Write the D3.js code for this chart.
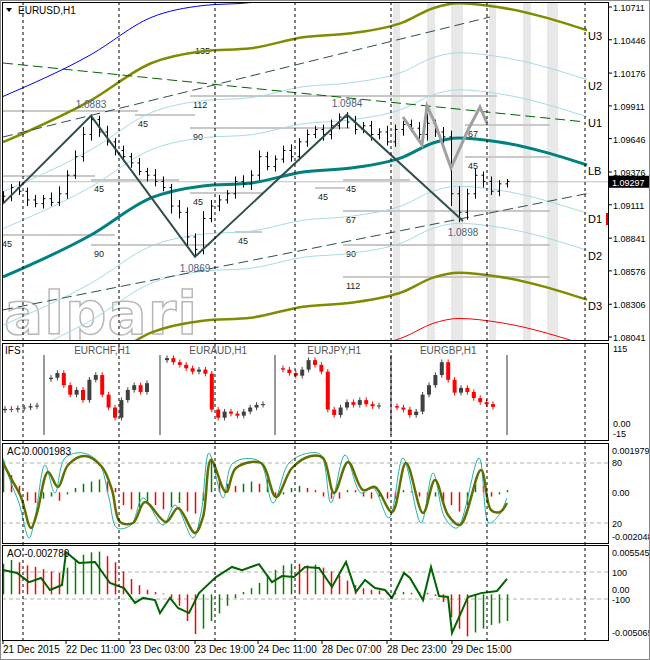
<!DOCTYPE html>
<html><head><meta charset="utf-8">
<script src="https://cdn.jsdelivr.net/npm/d3@7"></script>
<style>body{margin:0;background:#fff}svg{display:block;font-family:"Liberation Sans",Arial,sans-serif}</style>
</head><body><svg id="c" width="650" height="660"></svg>
<script>
// ---------- DATA ----------
const closes=[1.0918,1.0925,1.0922,1.0915,1.0912,1.0916,1.0913,1.0920,1.0935,1.0950,1.0968,1.0980,1.0970,1.0962,1.0955,1.0950,1.0945,1.0938,1.0935,1.0930,1.0925,1.0910,1.0905,1.0885,1.0875,1.0900,1.0910,1.0915,1.0920,1.0930,1.0928,1.0935,1.0950,1.0942,1.0948,1.0955,1.0950,1.0962,1.0968,1.0972,1.0968,1.0975,1.0982,1.0978,1.0972,1.0975,1.0968,1.0970,1.0962,1.0972,1.0976,1.0973,1.0968,1.0977,1.0970,1.0966,1.0920,1.0905,1.0920,1.0935,1.0930,1.0922,1.0928,1.0930];
const firstOpen=1.0915;
const wickUpPips=[4,3,5,3,4,3,5,6,4,5,6,4,3,5,3,4,3,4,3,5,4,3,5,4,3,6,5,4,3,4,5,4,5,4,3,4,5,3,4,3,4,5,3,4,5,3,4,3,5,4,3,4,5,8,3,4,5,6,4,5,3,4,3,2];
const wickDnPips=[3,4,3,5,3,4,3,3,4,3,4,5,4,3,4,3,4,3,5,4,3,6,5,7,5,4,3,4,3,4,3,5,4,3,4,3,4,3,4,3,5,4,3,5,4,3,5,4,3,4,5,3,4,5,4,5,10,8,6,4,5,3,4,3];
const barHourStep=2;
const priceTicks=[1.10711,1.10446,1.10176,1.09911,1.09646,1.09376,1.09111,1.08841,1.08576,1.08306,1.08041];
const lastPrice=1.09297;
const midHours=[0,22,37,50,62,75,87,100,107.5,114,124,146];
const midPrices=[1.08527,1.08866,1.09166,1.09263,1.09287,1.09376,1.09408,1.09497,1.09611,1.09651,1.09619,1.09433];
const bandNames=["U1","U2","U3","D1","D2","D3"];
const bandOffsets=[0.0039,0.0069,0.0109,-0.0039,-0.0069,-0.0109];
const outerOffsets=[0.0146,-0.0146];
const zigHours=[0,22,48,86,115];
const zigPrices=[1.0912,1.0983,1.0869,1.0984,1.0898];
const zigLabels=["","1.0883","1.0869","1.0984","1.0898"];
const projHours=[100,104.75,106,108,112,116.25,119.25,121];
const projPrices=[1.09821,1.09595,1.09910,1.09772,1.09408,1.09716,1.09902,1.09772];
const trendLines=[{h:[0,146.75],p:[1.08260,1.09206],c:"#2f4f4f"},{h:[0,121.75],p:[1.09659,1.10630],c:"#2f4f4f"},{h:[0,145.5],p:[1.10258,1.09781],c:"#006400"}];
const levels=[[-1,33.75,1.09870,""],[33,48,1.09837,"45"],[46.75,123.5,1.09991,"112"],[46.75,86.75,1.09732,"90"],[-1,23,1.09344,""],[22,44,1.09311,"45"],[46.75,64.75,1.09206,"45"],[78,85.5,1.09247,"45"],[85,101.75,1.09311,"45"],[-1,28,1.08866,"45"],[22,51.75,1.08786,"90"],[58,64.75,1.08891,"45"],[85,136.75,1.08786,"90"],[85,136.75,1.09061,"67"],[85,136.75,1.08527,"112"],[115.5,136.75,1.09756,"67"],[115.5,136.75,1.09498,"45"]];
const extraLabel={h:48,p:1.1033,t:"135"};
const stripes=[[97.5,99.25],[106,108],[112,115],[121.5,123.25],[130,132],[136,138.75]];
const sessionHours=[5,29,53,73,97,121,145.5];
const timeLabels=["21 Dec 2015","22 Dec 11:00","23 Dec 03:00","23 Dec 19:00","24 Dec 11:00","28 Dec 07:00","28 Dec 23:00","29 Dec 15:00"];
const timeLabelHours=[0,15.75,31.75,48,63.75,79.75,96,112.25];
// IFS panel
const ifsSeries=[
 {name:"",start:0.5,step:1.6,open:26,closes:[28,27,29,30,32,33]},
 {name:"EURCHF,H1",start:12,step:1.6,open:72,closes:[74,81,63,49,56,41,71,78,49,30,15,41,56,63,53,66]},
 {name:"EURAUD,H1",start:41,step:1.6,open:100,closes:[103,97,93,88,83,86,80,27,15,24,21,18,24,30,34,35]},
 {name:"EURJPY,H1",start:70,step:1.6,open:88,closes:[86,81,77,86,100,93,83,27,19,30,38,34,41,35,32,33]},
 {name:"EURGBP,H1",start:98.5,step:1.6,open:32,closes:[30,27,19,24,49,63,78,97,71,52,59,53,44,38,35,31]}];
const ifsSeparators=[10.25,39.25,68,97,126];
// AC panel
const acHist=[15,8,3,-4,-5,-3,-2,-4,-1,2,4,5,6,5,2,-6,-8,-7,-5,-6,-8,-7,-5,-9,-10,-4,16,6,4,3,4,5,4,6,-2,-1,2,3,2,1,-2,-3,-3,1,1,-2,-3,-2,-3,-3,1,0.5,-2,-4,-2,-4,-6,-9,-6,4,3,-2,-1,1];
const acSlowH=[0,2.25,4.5,7,8.5,11.25,13.75,16.25,20.5,24.75,27.25,29.25,32.5,35.5,40.75,43.75,48,50,52,55.75,58.25,64.5,68.25,72.25,77,80,82.75,86.25,90,93,97.25,100.75,105,108,111.25,114.25,119.5,122,124.25,126];
const acSlowV=[80,63,46,15,30,71,56,78,87,76,53,21,20,41,21,35,10,26,83,51,75,80,46,75,87,85,50,81,53,56,31,80,30,63,28,18,73,33,31,40];
const acFastH=[0,2,4,6.5,8,10.5,13,15.5,20,24,26.5,28.5,32,35,40,43,47.5,49.5,51.5,55,57.5,64,67.5,71.5,76.5,79.5,82,85.5,89.5,92.5,96.5,100,104.5,107.5,110.5,113.5,119,121.5,124,126];
const acFastV=[85,60,40,5,25,78,50,85,90,80,45,15,18,45,18,38,5,30,90,45,80,82,40,80,90,88,40,88,50,55,25,85,20,70,25,15,85,20,28,45];
// AO panel
const aoHist=[40,45,42,38,36,33,30,28,35,45,52,55,56,50,42,30,20,12,6,3,1,-5,-15,-35,-52,-45,-35,-25,-15,-5,3,8,15,25,32,38,40,40,38,39,35,30,25,18,12,8,6,5,3,2,3,2,3,2,-2,-10,-30,-45,-55,-50,-45,-40,-38,-35];
const aoLineH=[0,3.5,6.5,9.5,11.75,14.75,15.75,19,23,26.75,30.25,33,35,38,39.25,41.75,43.75,46.5,49,53.25,57.25,59.75,64,67.25,69.75,72.75,75.5,79,82.25,85.75,88.25,90.5,93,95.5,97.25,100.25,101.75,105,107,109,111.25,112.25,116.25,119.5,123.5,126];
const aoLineV=[108,96,58,75,25,46,183,138,142,54,33,-29,-8,-17,-71,-8,-50,-71,12,79,121,108,133,58,83,79,121,117,38,142,17,67,33,25,-8,96,75,-17,121,0,-4,-154,-4,12,21,71];

// ---------- DRAW ----------
const svg=d3.select("#c");
const x=d3.scaleLinear().domain([0,1]).range([3,7]);
const P={main:[2,340],ifs:[343,440],ac:[443,543],ao:[545,640]};
const L=2,R=608,AF=9;
const defs=svg.append("defs");
Object.entries(P).forEach(([k,[t,b]])=>defs.append("clipPath").attr("id","cl-"+k).append("rect").attr("x",L).attr("y",t).attr("width",R-L).attr("height",b-t));
const g={};Object.keys(P).forEach(k=>g[k]=svg.append("g").attr("clip-path",`url(#cl-${k})`));
const y=d3.scaleLinear().domain([1.08041,1.10711]).range([337,7]);
const line=(xs,ys,fx,fy,curve)=>d3.line().x((d,i)=>fx(xs[i])).y(d=>fy(d)).curve(curve||d3.curveLinear)(ys);

g.main.selectAll(".st").data(stripes).join("rect").attr("x",d=>x(d[0])).attr("width",d=>x(d[1])-x(d[0])).attr("y",P.main[0]).attr("height",P.main[1]-P.main[0]).attr("fill","#e8e8e8");
sessionHours.forEach(h=>svg.append("line").attr("x1",x(h)).attr("x2",x(h)).attr("y1",2).attr("y2",640).attr("stroke","#000").attr("stroke-dasharray","3,3").attr("stroke-width",1));
g.main.append("text").attr("x",4).attr("y",334).text("alpari").attr("font-size",58).attr("font-family","DejaVu Sans").attr("font-weight","bold").attr("fill","#fff").attr("stroke","#b8b8b8").attr("stroke-width",1.5).attr("letter-spacing",1);
levels.forEach(([h1,h2,p,t])=>{
  g.main.append("line").attr("x1",x(h1)).attr("x2",x(h2)).attr("y1",y(p)).attr("y2",y(p)).attr("stroke","#c8c8c8").attr("stroke-width",2);
  if(t) g.main.append("text").attr("x",x(h1)+3).attr("y",y(p)+12).text(t).attr("font-size",9).attr("fill","#222");
});
g.main.append("text").attr("x",x(extraLabel.h)).attr("y",y(extraLabel.p)).text(extraLabel.t).attr("font-size",9).attr("fill","#222");
g.main.append("line").attr("x1",L).attr("x2",R).attr("y1",y(lastPrice)).attr("y2",y(lastPrice)).attr("stroke","#c0c0c0");
const curve=d3.curveMonotoneX;
bandOffsets.forEach((o,i)=>{
  const olive=Math.abs(o)>0.01;
  g.main.append("path").attr("d",line(midHours,midPrices.map(m=>m+o),x,y,curve)).attr("fill","none").attr("stroke",olive?"#7f8c00":"#a6dbe6").attr("stroke-width",olive?2.5:1);
});
outerOffsets.forEach((o,i)=>g.main.append("path").attr("d",line(midHours,midPrices.map(m=>m+o),x,y,curve)).attr("fill","none").attr("stroke",i?"#ff0000":"#0000ff").attr("stroke-width",1));
g.main.append("path").attr("d",line(midHours,midPrices,x,y,curve)).attr("fill","none").attr("stroke","#008080").attr("stroke-width",3);
trendLines.forEach(t=>g.main.append("line").attr("x1",x(t.h[0])).attr("x2",x(t.h[1])).attr("y1",y(t.p[0])).attr("y2",y(t.p[1])).attr("stroke",t.c).attr("stroke-dasharray","10,5").attr("stroke-width",1));
let prev=firstOpen;
const bars=closes.map((c,i)=>{const o=prev;prev=c;return {h:i*barHourStep,o,c,hi:Math.max(o,c)+wickUpPips[i]*1e-4,lo:Math.min(o,c)-wickDnPips[i]*1e-4};});
const bg=g.main.append("g").attr("stroke","#000").attr("stroke-width",1);
bars.forEach(b=>{const cx=Math.round(x(b.h))+0.5;
  bg.append("line").attr("x1",cx).attr("x2",cx).attr("y1",y(b.hi)).attr("y2",y(b.lo));
  bg.append("line").attr("x1",cx-2).attr("x2",cx).attr("y1",y(b.o)).attr("y2",y(b.o));
  bg.append("line").attr("x1",cx).attr("x2",cx+2).attr("y1",y(b.c)).attr("y2",y(b.c));});
g.main.append("path").attr("d",line(projHours,projPrices,x,y)).attr("fill","none").attr("stroke","#a0a0a0").attr("stroke-width",3);
g.main.append("path").attr("d",line(zigHours,zigPrices,x,y)).attr("fill","none").attr("stroke","#2f4f4f").attr("stroke-width",2);
zigLabels.forEach((t,i)=>{if(!t)return;const up=zigPrices[i]>zigPrices[i-1];
  g.main.append("text").attr("x",x(zigHours[i])).attr("y",y(zigPrices[i])+(up?-8:15)).attr("text-anchor","middle").text(t).attr("font-size",10).attr("fill","#4a5f7a");});
bandNames.concat(["LB"]).forEach((n,i)=>{const p=i<6?midPrices[midPrices.length-1]+bandOffsets[i]:midPrices[midPrices.length-1];
  svg.append("text").attr("x",588).attr("y",y(p)+10).text(n).attr("font-size",11).attr("fill","#000");});
svg.append("path").attr("d","M6,8 L12,8 L9,12 Z").attr("fill","#000");
svg.append("text").attr("x",18).attr("y",14).text("EURUSD,H1").attr("font-size",10);
priceTicks.forEach(p=>{svg.append("line").attr("x1",R).attr("x2",R+4).attr("y1",y(p)).attr("y2",y(p)).attr("stroke","#000");
  svg.append("text").attr("x",613).attr("y",y(p)+4).text(p.toFixed(5)).attr("font-size",AF);});
svg.append("rect").attr("x",609).attr("y",y(lastPrice)-6).attr("width",41).attr("height",12).attr("fill","#000");
svg.append("text").attr("x",612).attr("y",y(lastPrice)+4).text(lastPrice.toFixed(5)).attr("font-size",AF).attr("fill","#fff");
svg.append("rect").attr("x",606).attr("y",213).attr("width",3).attr("height",12).attr("fill","#e00");

// IFS
const yi=d3.scaleLinear().domain([-15,115]).range([438,350]);
ifsSeparators.forEach(h=>g.ifs.append("line").attr("x1",x(h)).attr("x2",x(h)).attr("y1",355).attr("y2",435).attr("stroke","#333"));
ifsSeries.forEach(s=>{let o=s.open;
  s.closes.forEach((c,i)=>{const cx=x(s.start+i*s.step);const col=c<o?"#ff0000":"#404040";
    g.ifs.append("line").attr("x1",cx).attr("x2",cx).attr("y1",yi(Math.max(o,c)+4)).attr("y2",yi(Math.min(o,c)-4)).attr("stroke",col);
    g.ifs.append("rect").attr("x",cx-2).attr("width",4).attr("y",yi(Math.max(o,c))).attr("height",Math.max(1,Math.abs(yi(o)-yi(c)))).attr("fill",col);
    o=c;});
  if(s.name) svg.append("text").attr("x",x(s.start+s.step*8)).attr("y",354).attr("text-anchor","middle").text(s.name).attr("font-size",10).attr("fill","#555");});
svg.append("text").attr("x",5).attr("y",354).text("IFS").attr("font-size",10);
[["115",352],["0.00",427],["-15",437]].forEach(([t,yy])=>svg.append("text").attr("x",613).attr("y",yy).text(t).attr("font-size",AF));

// AC
const ya=d3.scaleLinear().domain([-0.002048,0.001979]).range([536,450]);
const ys=d3.scaleLinear().domain([0,100]).range([543,443]);
[80,20].forEach(v=>g.ac.append("line").attr("x1",L).attr("x2",R).attr("y1",ys(v)).attr("y2",ys(v)).attr("stroke","#b0b0b0").attr("stroke-dasharray","4,3"));
acHist.forEach((v,i)=>{const up=i==0||v>acHist[i-1];const cx=Math.round(x(i*barHourStep))+0.5;
  g.ac.append("line").attr("x1",cx).attr("x2",cx).attr("y1",ya(0)).attr("y2",ya(v*1e-4)).attr("stroke",up?"#008000":"#ff0000").attr("stroke-width",1.5);});
g.ac.append("path").attr("d",line(acFastH,acFastV,x,ys,d3.curveCatmullRom)).attr("fill","none").attr("stroke","#20b2aa").attr("stroke-width",1);
g.ac.append("path").attr("d",line(acSlowH,acSlowV,x,ys,d3.curveCatmullRom)).attr("fill","none").attr("stroke","#5f7000").attr("stroke-width",2.5);
svg.append("text").attr("x",7).attr("y",455).text("AC 0.0001983").attr("font-size",10);
[["0.001979",454],["80",466],["0.00",496],["20",527],["-0.002048",540]].forEach(([t,yy])=>svg.append("text").attr("x",612).attr("y",yy).text(t).attr("font-size",AF));

// AO
const yo=d3.scaleLinear().domain([-0.005065,0.005545]).range([633,552]);
const yl=d3.scaleLinear().domain([0,100]).range([596,572]);
[572,599].forEach(v=>g.ao.append("line").attr("x1",L).attr("x2",R).attr("y1",v).attr("y2",v).attr("stroke","#b0b0b0").attr("stroke-dasharray","4,3"));
aoHist.forEach((v,i)=>{const up=i==0||v>aoHist[i-1];const cx=Math.round(x(i*barHourStep))+0.5;
  g.ao.append("line").attr("x1",cx).attr("x2",cx).attr("y1",yo(0)).attr("y2",yo(v*1e-4)).attr("stroke",up?"#008000":"#ff0000").attr("stroke-width",1.5);});
g.ao.append("path").attr("d",line(aoLineH,aoLineV,x,yl)).attr("fill","none").attr("stroke","#006400").attr("stroke-width",2);
svg.append("text").attr("x",7).attr("y",557).text("AO -0.002780").attr("font-size",10);
[["0.005545",556],["100",576],["0.00",593],["-100",603],["-0.005065",636]].forEach(([t,yy])=>svg.append("text").attr("x",612).attr("y",yy).text(t).attr("font-size",AF));

Object.values(P).forEach(([t,b])=>svg.append("rect").attr("x",L+0.5).attr("y",t+0.5).attr("width",R-L).attr("height",b-t).attr("fill","none").attr("stroke","#000"));
timeLabelHours.forEach((h,i)=>{svg.append("line").attr("x1",x(h)).attr("x2",x(h)).attr("y1",640).attr("y2",644).attr("stroke","#000");
  svg.append("text").attr("x",x(h)).attr("y",653).text(timeLabels[i]).attr("font-size",10);});
svg.append("rect").attr("x",0.5).attr("y",0.5).attr("width",649).attr("height",659).attr("fill","none").attr("stroke","#888");
</script></body></html>
